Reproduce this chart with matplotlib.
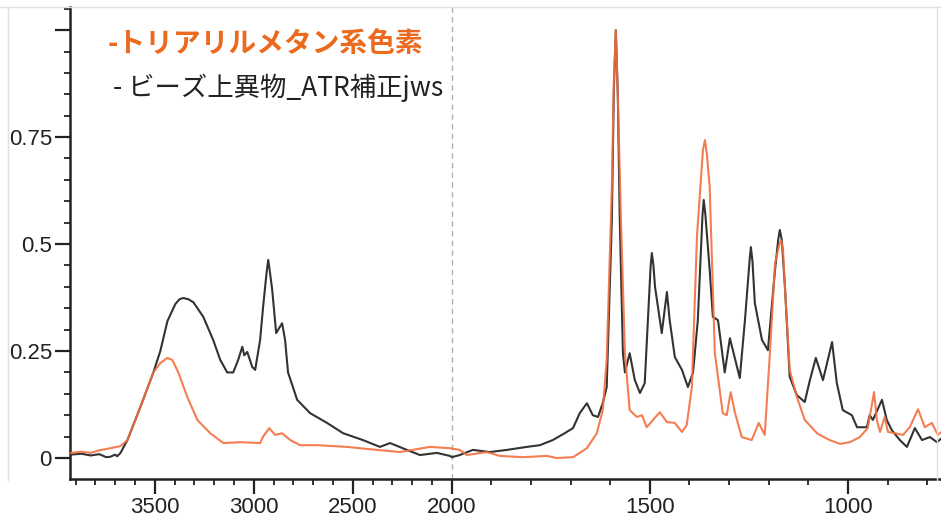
import numpy as np
import matplotlib
matplotlib.use("Agg")
import matplotlib.pyplot as plt
from matplotlib.ticker import FixedLocator, MultipleLocator, FixedFormatter
from matplotlib.lines import Line2D

# Sample spectrum: wavenumber (cm-1) and absorbance
bead_wn = [3925, 3870, 3824, 3780, 3745, 3724, 3700, 3690, 3673, 3638, 3572, 3507,
           3472, 3436, 3396, 3375, 3356, 3330, 3305, 3255, 3205, 3169, 3134, 3104, 3079, 3058,
           3048, 3033, 3008, 2993, 2968, 2953, 2935, 2927, 2920, 2907, 2887, 2857, 2842, 2827,
           2781, 2716, 2630, 2549, 2449, 2363, 2312, 2227, 2161, 2076, 2010, 2000,
           1980, 1947, 1904, 1861, 1811, 1778, 1745, 1715, 1694, 1677, 1659, 1644,
           1631, 1619, 1609, 1596, 1591, 1586, 1581, 1576, 1568, 1563, 1551, 1538, 1525, 1513,
           1505, 1498, 1495, 1491, 1487, 1470, 1457, 1450, 1437, 1419, 1404, 1391, 1379, 1367,
           1364, 1360, 1349, 1341, 1328, 1311, 1298, 1273, 1260, 1248, 1245, 1241, 1235, 1217,
           1202, 1184, 1176, 1172, 1167, 1159, 1147, 1129, 1109, 1096, 1081, 1063, 1040, 1028,
           1013, 990, 977, 952, 945, 937, 914, 902, 889, 869, 851, 831, 813, 793, 775, 765]
bead_abs = [0.008, 0.010, 0.006, 0.009, 0.002, 0.003, 0.008, 0.004, 0.012, 0.042, 0.120, 0.200,
            0.250, 0.320, 0.360, 0.371, 0.374, 0.371, 0.364, 0.330, 0.276, 0.229, 0.200, 0.200,
            0.229, 0.260, 0.240, 0.248, 0.213, 0.206, 0.276, 0.353, 0.435, 0.463, 0.440, 0.393,
            0.292, 0.315, 0.276, 0.200, 0.136, 0.105, 0.082, 0.058, 0.042, 0.026, 0.035, 0.019,
            0.007, 0.012, 0.005, 0.002, 0.007, 0.019, 0.014, 0.019, 0.026, 0.030, 0.042, 0.058,
            0.070, 0.105, 0.128, 0.100, 0.096, 0.128, 0.166, 0.556, 0.860, 1.000, 0.850, 0.556,
            0.245, 0.200, 0.245, 0.182, 0.152, 0.175, 0.322, 0.450, 0.479, 0.450, 0.400, 0.292,
            0.388, 0.322, 0.236, 0.206, 0.166, 0.200, 0.322, 0.570, 0.603, 0.570, 0.440, 0.330,
            0.322, 0.200, 0.280, 0.187, 0.322, 0.465, 0.493, 0.460, 0.362, 0.276, 0.252, 0.440,
            0.510, 0.533, 0.510, 0.400, 0.190, 0.147, 0.131, 0.182, 0.234, 0.182, 0.271, 0.175,
            0.112, 0.100, 0.072, 0.072, 0.100, 0.089, 0.136, 0.089, 0.065, 0.042, 0.026, 0.070,
            0.042, 0.049, 0.037, 0.045]

# Reference dye spectrum
dye_wn = [3925, 3870, 3824, 3780, 3724, 3673, 3638, 3572, 3507, 3472, 3436, 3411,
          3381, 3336, 3285, 3220, 3154, 3068, 2968, 2953, 2922, 2892, 2857, 2816,
          2766, 2680, 2529, 2378, 2262, 2111, 2010, 1980, 1962, 1912, 1879, 1821,
          1760, 1735, 1694, 1659, 1634, 1619, 1609, 1596, 1591, 1586, 1581, 1573, 1563, 1551,
          1533, 1520, 1508, 1492, 1475, 1457, 1437, 1419, 1407, 1394, 1381, 1366, 1361,
          1356, 1349, 1336, 1316, 1306, 1296, 1285, 1268, 1243, 1225, 1210, 1197, 1184,
          1174, 1169, 1164, 1159, 1147, 1129, 1109, 1078, 1071, 1046, 1020, 995, 970, 950,
          934, 927, 919, 907, 899, 881, 861, 844, 823, 806, 788, 773, 765]
dye_abs = [0.012, 0.015, 0.012, 0.018, 0.023, 0.028, 0.042, 0.120, 0.200, 0.222, 0.234, 0.229,
           0.200, 0.143, 0.089, 0.058, 0.035, 0.037, 0.035, 0.050, 0.070, 0.054, 0.058, 0.042,
           0.030, 0.030, 0.026, 0.019, 0.014, 0.026, 0.023, 0.019, 0.007, 0.014, 0.005, 0.002,
           0.005, 0.000, 0.002, 0.023, 0.058, 0.112, 0.230, 0.633, 0.880, 1.000, 0.850, 0.556,
           0.245, 0.112, 0.096, 0.100, 0.072, 0.089, 0.107, 0.084, 0.082, 0.061, 0.077, 0.166,
           0.520, 0.720, 0.743, 0.710, 0.633, 0.245, 0.105, 0.100, 0.154, 0.105, 0.049, 0.042,
           0.082, 0.054, 0.245, 0.456, 0.495, 0.509, 0.490, 0.400, 0.206, 0.143, 0.089, 0.058,
           0.054, 0.042, 0.033, 0.037, 0.049, 0.070, 0.154, 0.089, 0.061, 0.096, 0.061, 0.058,
           0.054, 0.072, 0.114, 0.072, 0.082, 0.054, 0.060]

dye_label = "-トリアリルメタン系色素"
bead_label = "- ビーズ上異物_ATR補正jws"

x_major = [3500, 3000, 2500, 2000, 1500, 1000]
y_major = [0, 0.25, 0.5, 0.75, 1.0]
y_labels = ["0", "0.25", "0.5", "0.75", ""]

BREAK = 2000.0
HIGH_FACTOR = 0.5  # region above 2000 cm-1 is shown at half scale


def fwd(x):
    x = np.asarray(x, dtype=float)
    return np.where(x > BREAK, BREAK + (x - BREAK) * HIGH_FACTOR, x)


def inv(y):
    y = np.asarray(y, dtype=float)
    return np.where(y > BREAK, BREAK + (y - BREAK) / HIGH_FACTOR, y)


plt.rcParams['font.family'] = ['Liberation Sans', 'DejaVu Sans']

W, H = 941, 519
fig = plt.figure(figsize=(W / 100, H / 100), dpi=100)
ax = fig.add_axes([70 / W, (H - 479) / H, (W - 70) / W, (479 - 7) / H])

ax.set_xscale('function', functions=(fwd, inv))
ax.set_xlim(3928, 765)
ax.set_ylim(-0.049, 1.054)

ax.axvline(2000, color='#b0b0b0', lw=1.0, ls=(0, (4, 3)), zorder=1)

ax.plot(bead_wn, bead_abs, color='#333333', lw=1.5, zorder=3,
        solid_joinstyle='round')
ax.plot(dye_wn, dye_abs, color='#f2703f', lw=1.5, alpha=0.9, zorder=4,
        solid_joinstyle='round')

for s in ['top', 'right']:
    ax.spines[s].set_visible(False)
for s in ['left', 'bottom']:
    ax.spines[s].set_linewidth(1.8)
    ax.spines[s].set_color('#222222')

ax.xaxis.set_major_locator(FixedLocator(x_major))
ax.xaxis.set_minor_locator(MultipleLocator(100))
ax.set_xticklabels([str(v) for v in x_major])
ax.yaxis.set_major_locator(FixedLocator(y_major))
ax.yaxis.set_major_formatter(FixedFormatter(y_labels))
ax.yaxis.set_minor_locator(MultipleLocator(0.05))

ax.tick_params(which='major', length=11, width=1.6, color='#222222',
               labelsize=16, pad=2, labelcolor='#222222')
ax.tick_params(which='minor', length=4, width=1.3, color='#222222')

cjk = ['Noto Sans CJK JP', 'DejaVu Sans']
fig.text(108 / W, 1 - 44 / H, dye_label, color='#ec6a1e', fontsize=20,
         fontweight='bold', family=cjk, va='center', ha='left')
fig.text(113 / W, 1 - 88 / H, bead_label, color='#222222', fontsize=19,
         family=cjk, va='center', ha='left')

# light frame around the plot area
frame = dict(transform=fig.transFigure, color='#e0e0e0', lw=1.0)
fig.add_artist(Line2D([0, 1], [1 - 7 / H, 1 - 7 / H], **frame))
fig.add_artist(Line2D([8 / W, 8 / W], [1 - 7 / H, 1 - 480 / H], **frame))
fig.add_artist(Line2D([937 / W, 937 / W], [1 - 7 / H, 1 - 480 / H], **frame))

fig.savefig('out.png', dpi=100, facecolor='white')
